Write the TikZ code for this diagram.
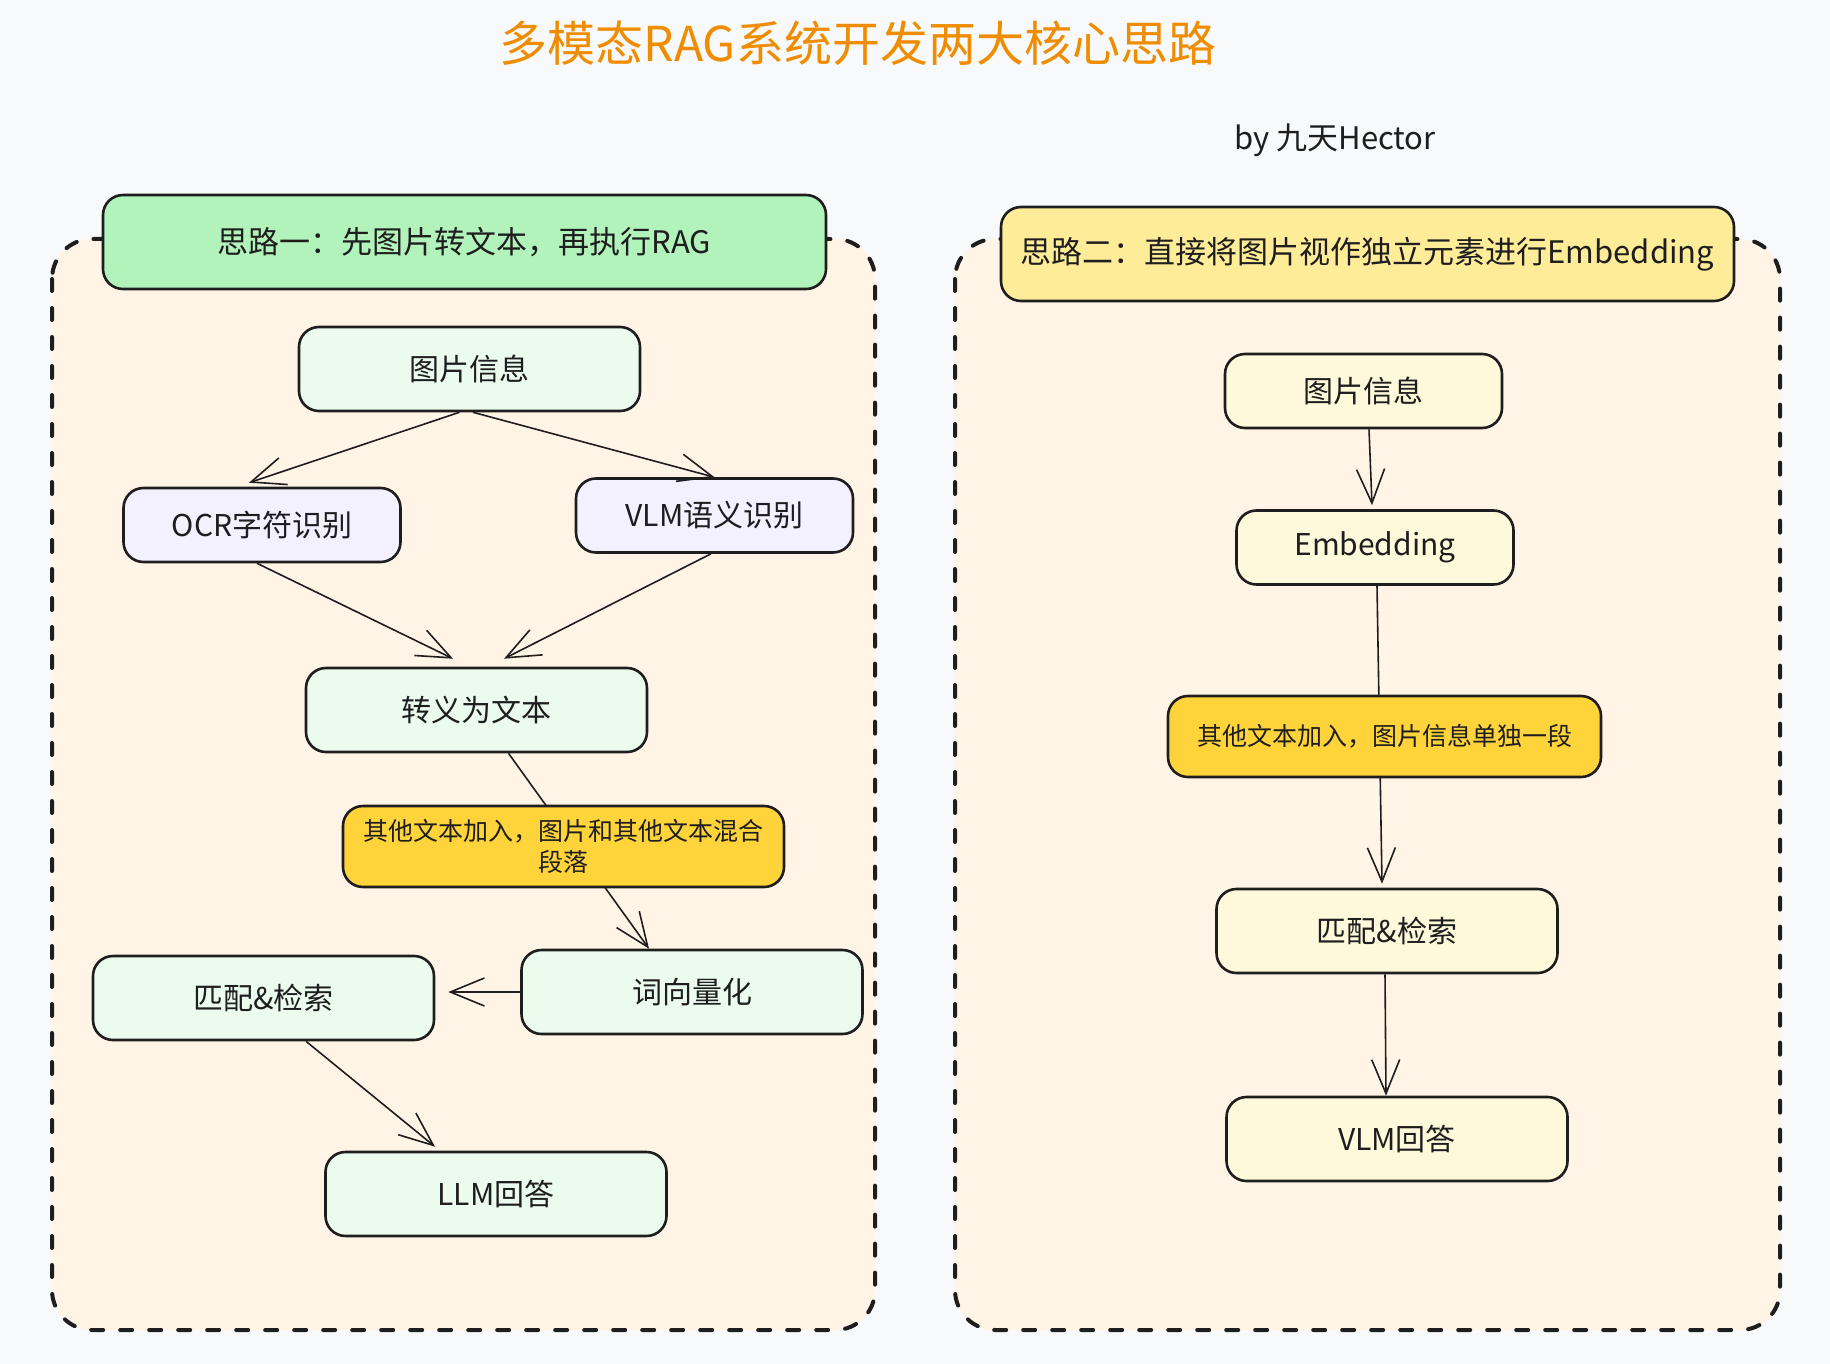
\documentclass[tikz,border=0pt]{standalone}
\usepackage{fontspec}
\setmainfont{Noto Sans CJK SC}
\usepackage{xcolor}
\usetikzlibrary{positioning, arrows.meta}

\definecolor{ink}{HTML}{1E1E1E}
\definecolor{pagebg}{HTML}{F8F9FA}
\definecolor{boardfill}{HTML}{FFF4E6}
\definecolor{titleorange}{HTML}{F08C00}
\definecolor{greenhead}{HTML}{B2F2BB}
\definecolor{greenbox}{HTML}{EBFBEE}
\definecolor{violetbox}{HTML}{F3F0FF}
\definecolor{notefill}{HTML}{FFD43B}
\definecolor{yellowhead}{HTML}{FFEC99}
\definecolor{yellowbox}{HTML}{FFF9DB}

\begin{document}
\begin{tikzpicture}[
  x=0.5pt, y=-0.5pt,
  font=\fontsize{15}{18}\selectfont, text=ink,
  >={Straight Barb[length=17pt, width=14pt]},
  board/.style={
    draw=ink, line width=2pt, line cap=round, dash pattern=on 6pt off 8.5pt,
    rounded corners=20pt, fill=boardfill
  },
  card/.style={
    draw=ink, line width=1.3pt, rounded corners=10pt,
    minimum width=170.5pt, minimum height=42pt, align=center
  },
  smallcard/.style={card, minimum width=138.5pt, minimum height=37pt},
  headcard/.style={card, minimum height=47pt, font=\fontsize{15.5}{18}\selectfont},
  notecard/.style={card, fill=notefill, minimum height=40.5pt, font=\fontsize{12.5}{15.5}\selectfont},
  flow/.style={->, draw=ink, line width=0.8pt}
]

% Page and the two dashed boards
\fill[pagebg] (0,0) rectangle (1830,1364);
\useasboundingbox (0,0) rectangle (1830,1364);
\draw[board] (52,239) rectangle (875,1330);
\draw[board] (955,239) rectangle (1780,1330);

% Title and byline
\node[text=titleorange, font=\fontsize{24}{28}\selectfont] (title) at (858,43) {多模态RAG系统开发两大核心思路};
\node[font=\fontsize{15.5}{18}\selectfont] (byline) at (1335,140) {by 九天Hector};

% Left board: image -> text -> RAG
\node[headcard, fill=greenhead, minimum width=361.5pt] (hdrL) at (464.5,242) {思路一：先图片转文本，再执行RAG};
\node[card, fill=greenbox] (imgL) at (469.5,369) {图片信息};
\node[smallcard, fill=violetbox] (ocr) at (262,525) {OCR字符识别};
\node[smallcard, fill=violetbox] (vlm) at (714.5,515.5) {VLM语义识别};
\node[card, fill=greenbox] (conv) at (476.5,710) {转义为文本};
\node[card, fill=greenbox] (vec) at (692,992) {词向量化};
\node[card, fill=greenbox] (matchL) at (263.5,998) {匹配\&检索};
\node[card, fill=greenbox] (llm) at (496,1194) {LLM回答};

% Right board: image as its own element
\node[headcard, fill=yellowhead, minimum width=366.5pt] (hdrR) at (1367.5,254) {思路二：直接将图片视作独立元素进行Embedding};
\node[smallcard, fill=yellowbox] (imgR) at (1363.5,391) {图片信息};
\node[smallcard, fill=yellowbox] (emb) at (1375,547.5) {Embedding};
\node[card, fill=yellowbox] (matchR) at (1387,931) {匹配\&检索};
\node[card, fill=yellowbox] (vlmans) at (1397,1139) {VLM回答};

% Left arrows
\draw[flow] ([xshift=-5pt]imgL.south) -- ([xshift=-6.5pt, yshift=2pt]ocr.north);
\draw[flow] ([xshift=1.75pt]imgL.south) -- ([yshift=0pt]vlm.north);
\draw[flow] ([xshift=-2.5pt]ocr.south) -- ([xshift=-11.75pt, yshift=4pt]conv.north);
\draw[flow] ([xshift=-1.75pt]vlm.south) -- ([xshift=13.75pt, yshift=4pt]conv.north);
\draw[flow] ([xshift=16pt]conv.south) -- ([xshift=-21.5pt]vec.north);
\draw[flow] (vec.west) -- ([xshift=6.5pt, yshift=3pt]matchL.east);
\draw[flow] ([xshift=21.25pt]matchL.south) -- ([xshift=-30.5pt, yshift=2pt]llm.north);

% Right arrows
\draw[flow] ([xshift=2.75pt]imgR.south) -- ([xshift=-1.5pt, yshift=2pt]emb.north);
\draw[flow] ([xshift=1pt]emb.south) -- ([xshift=-2.5pt, yshift=2pt]matchR.north);
\draw[flow] ([xshift=-1pt]matchR.south) -- ([xshift=-5.5pt]vlmans.north);

% Notes sit on top of the arrows they interrupt
\node[notecard, minimum width=220.5pt] (noteL) at (563.5,846.5) {其他文本加入，图片和其他文本混合\\段落};
\node[notecard, minimum width=216.5pt] (noteR) at (1384.5,736.5) {其他文本加入，图片信息单独一段};

\end{tikzpicture}
\end{document}
